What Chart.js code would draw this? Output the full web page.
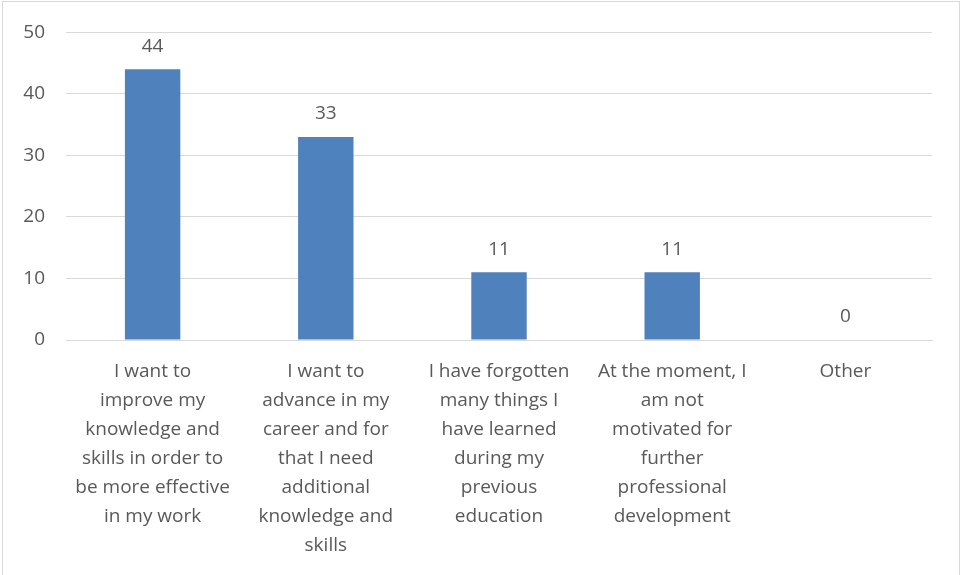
<!DOCTYPE html>
<html>
<head>
<meta charset="utf-8">
<script src="https://cdn.jsdelivr.net/npm/chart.js@4"></script>
<style>
  body { margin: 0; background: #fff; }
  #wrap { position: relative; width: 962px; height: 575px; }
  #frame { position: absolute; left: 2px; top: 1px; width: 956px; height: 590px; border: 1px solid #d9d9d9; }
  canvas { position: absolute; left: 0; top: 0; }
</style>
</head>
<body>
<div id="wrap">
  <div id="frame"></div>
  <canvas id="reasonChart" width="962" height="575"></canvas>
</div>
<script>
var categories = [
  ['I want to', 'improve my', 'knowledge and', 'skills in order to', 'be more effective', 'in my work'],
  ['I want to', 'advance in my', 'career and for', 'that I need', 'additional', 'knowledge and', 'skills'],
  ['I have forgotten', 'many things I', 'have learned', 'during my', 'previous', 'education'],
  ['At the moment, I', 'am not', 'motivated for', 'further', 'professional', 'development'],
  ['Other']
];
var values = [44, 33, 11, 11, 0];
var yTicks = [0, 10, 20, 30, 40, 50];

var textColor = '#595959';
var fontFamily = '"Open Sans", "Liberation Sans", sans-serif';

// draws the number above each bar
var valueLabels = {
  id: 'valueLabels',
  afterDatasetsDraw: function(chart) {
    var ctx = chart.ctx;
    var meta = chart.getDatasetMeta(0);
    ctx.save();
    ctx.fillStyle = textColor;
    ctx.font = '19px ' + fontFamily;
    ctx.textAlign = 'center';
    ctx.textBaseline = 'middle';
    meta.data.forEach(function(bar, i) {
      ctx.fillText(values[i], bar.x, bar.y - 23);
    });
    ctx.restore();
  }
};

var ctx = document.getElementById('reasonChart');
var reasonChart = new Chart(ctx, {
  type: 'bar',
  data: {
    labels: categories,
    datasets: [{
      data: values,
      backgroundColor: '#4f81bd',
      barPercentage: 0.32,
      categoryPercentage: 1
    }]
  },
  options: {
    responsive: false,
    animation: false,
    layout: { padding: { top: 26, right: 30, left: 0, bottom: 0 } },
    plugins: {
      legend: { display: false },
      tooltip: { enabled: false }
    },
    scales: {
      x: {
        grid: { display: false },
        border: { color: '#d9d9d9', width: 1 },
        ticks: {
          color: textColor,
          font: { family: fontFamily, size: 19, lineHeight: 1.53 },
          padding: 9,
          maxRotation: 0,
          autoSkip: false
        },
        afterFit: function(scale) { scale.height = 235; }
      },
      y: {
        min: 0,
        max: 50,
        afterBuildTicks: function(scale) {
          scale.ticks = yTicks.map(function(v) { return { value: v }; });
        },
        grid: { color: '#d9d9d9', drawTicks: false },
        border: { display: false },
        ticks: {
          color: textColor,
          font: { family: fontFamily, size: 19 },
          padding: 21
        },
        afterFit: function(scale) { scale.width = 66; }
      }
    }
  },
  plugins: [valueLabels]
});
</script>
</body>
</html>
